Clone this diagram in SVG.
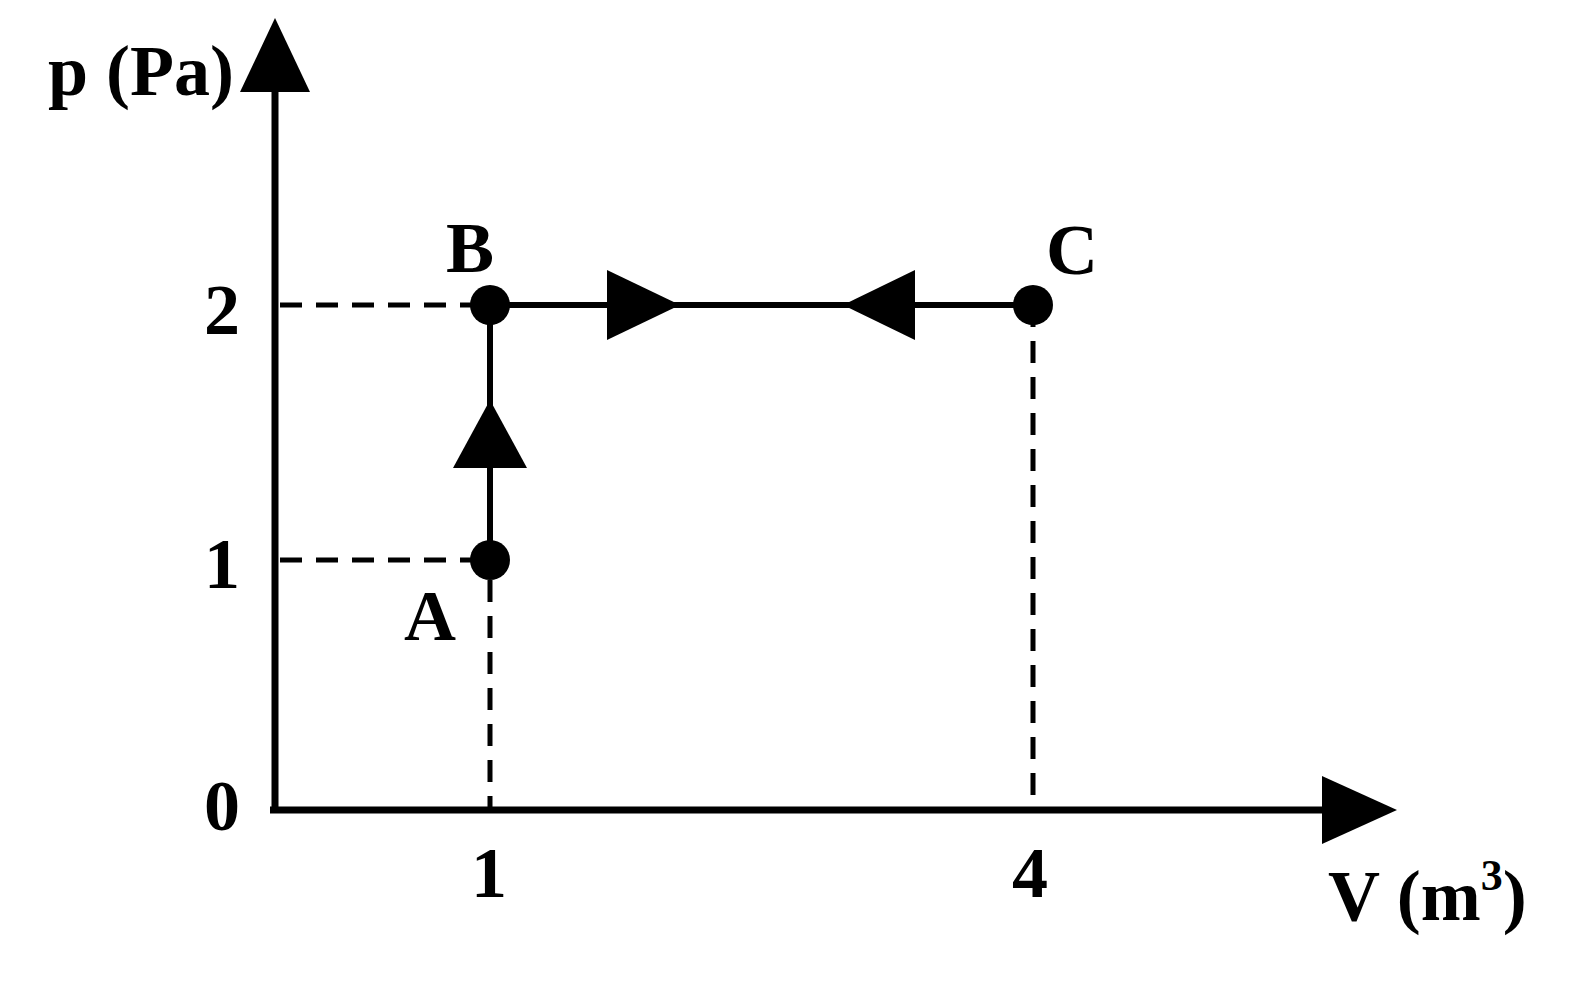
<svg xmlns="http://www.w3.org/2000/svg" width="1584" height="993" viewBox="0 0 1584 993">
<style>
text{font-family:"Liberation Serif",serif;font-weight:bold;font-size:72px;fill:#000}
.ax{stroke:#000;stroke-width:7;fill:none}
.ds{stroke:#000;stroke-width:5;stroke-dasharray:22 14;fill:none}
.ln{stroke:#000;stroke-width:6;fill:none}
</style>
<rect width="1584" height="993" fill="#fff"/>
<g id="connectors">
<path class="ds" d="M280 305H490M280 560H490M490 580V810M1033 305V810"/>
<path class="ln" d="M490 560V305H1033"/>
<polygon points="490,400 453,468 527,468"/>
<polygon points="680,305 607,270 607,340"/>
<polygon points="843,305 915,270 915,340"/>
</g>
<g id="axes">
<path class="ax" d="M275 813V80M270 810H1330"/>
<polygon points="275,18 240,92 310,92"/>
<polygon points="1397,810 1322,776 1322,844"/>
</g>
<g id="A"><circle cx="490" cy="560" r="20"/><text x="430" y="640" text-anchor="middle">A</text></g>
<g id="B"><circle cx="490" cy="305" r="20"/><text x="470" y="272" text-anchor="middle">B</text></g>
<g id="C"><circle cx="1033" cy="305" r="20"/><text x="1072" y="274" text-anchor="middle">C</text></g>
<g id="labels">
<text x="48" y="95">p (Pa)</text>
<text x="222" y="334" text-anchor="middle">2</text>
<text x="222" y="588" text-anchor="middle">1</text>
<text x="222" y="830" text-anchor="middle">0</text>
<text x="489" y="897" text-anchor="middle">1</text>
<text x="1030" y="897" text-anchor="middle">4</text>
<text x="1328" y="920">V (m<tspan font-size="44" dy="-30">3</tspan><tspan dy="30">)</tspan></text>
</g>
</svg>
